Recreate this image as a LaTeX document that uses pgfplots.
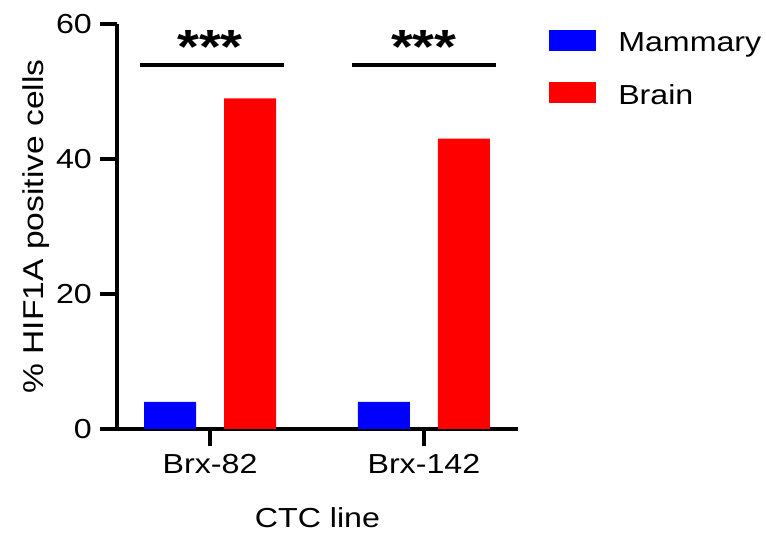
\documentclass[border=0pt]{standalone}
\usepackage{fontspec}
\setmainfont{Liberation Sans}[FakeStretch=1.17]
\usepackage{pgfplots}
\pgfplotsset{compat=1.18}
\begin{document}
\begin{tikzpicture}[x=1pt,y=1pt]
\begin{axis}[
 scale only axis, width=401pt, height=405pt,
 xmin=-0.435, xmax=1.44, ymin=0, ymax=60,
 axis x line*=bottom, axis y line*=left,
 axis line style={line width=3.4pt, black},
 xtick={0,1}, xticklabels={Brx-82,Brx-142},
 ytick={0,20,40,60},
 tick align=outside, major tick length=17pt,
 every tick/.append style={black, line width=3.4pt},
 tick label style={font=\fontsize{27.5}{27.5}\selectfont, text=black},
 /pgf/number format/assume math mode=true,
 yticklabel style={inner sep=0pt, xshift=-8pt},
 xticklabel style={inner sep=0pt, yshift=-8pt},
 ylabel={\% HIF1A positive cells},
 xlabel={CTC line},
 xlabel style={font=\fontsize{27.5}{27.5}\selectfont, at={(axis description cs:0.5,-0.2444)}, anchor=base},
 ylabel style={font=\fontsize{28.7}{28.7}\selectfont, at={(axis description cs:-0.1845,0.5)}, anchor=base},
 clip=false,
 legend style={draw=none, fill=none, at={(1.077,0.985)}, anchor=north west,
   font=\fontsize{27.5}{27.5}\selectfont, inner sep=0pt, outer sep=0pt,
   row sep=29pt, nodes={inner sep=0pt},
   /tikz/every odd column/.append style={column sep=23pt}},
 legend cell align=left,
]
\addplot[ybar, bar width=52pt, bar shift=-40pt, fill=blue, draw=none, forget plot]
  coordinates {(0,4) (1,4)};
\addplot[ybar, bar width=52pt, bar shift=40pt, fill=red, draw=none, forget plot]
  coordinates {(0,49) (1,43)};
\addplot[black, line width=3.6pt, forget plot] coordinates {(-0.327,53.9) (0.345,53.9)};
\addplot[black, line width=3.6pt, forget plot] coordinates {(0.664,53.9) (1.336,53.9)};
\node[anchor=base, font=\fontsize{48}{48}\selectfont\bfseries] at (axis cs:0.0,54.1) {***};
\node[anchor=base, font=\fontsize{48}{48}\selectfont\bfseries] at (axis cs:1.0,54.1) {***};
\addlegendimage{legend image code/.code={\fill[blue] (0pt,-7pt) rectangle (46pt,13pt);}}
\addlegendentry{Mammary}
\addlegendimage{legend image code/.code={\fill[red] (0pt,-7pt) rectangle (46pt,13pt);}}
\addlegendentry{Brain}
\end{axis}
\pgfresetboundingbox
\path (-117pt,-111pt) rectangle (649pt,429pt);
\end{tikzpicture}
\end{document}
